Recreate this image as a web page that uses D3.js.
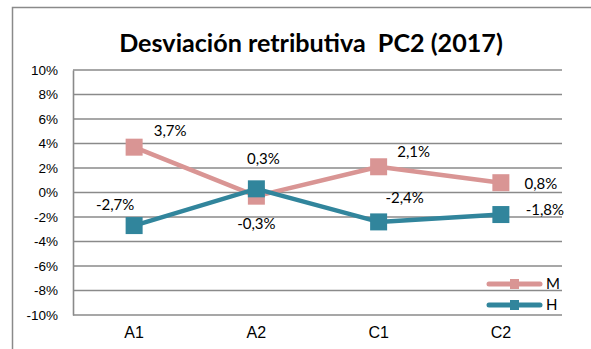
<!DOCTYPE html>
<html>
<head>
<meta charset="utf-8">
<script src="https://cdn.jsdelivr.net/npm/d3@7"></script>
<style>
  html, body { margin: 0; padding: 0; background: #fff; }
  svg { display: block; font-family: "Gill Sans", "Lato", "Open Sans", sans-serif; }
</style>
</head>
<body>
<svg id="chart" width="591" height="349"></svg>
<script>
// Chart data
const categories = ["A1", "A2", "C1", "C2"];
const seriesM = [3.7, -0.3, 2.1, 0.8];
const seriesH = [-2.7, 0.3, -2.4, -1.8];
const yTicks = [-10, -8, -6, -4, -2, 0, 2, 4, 6, 8, 10];
const seriesNames = ["M", "H"];
const titleText = "Desviación retributiva  PC2 (2017)";

const colorM = "#D99594";
const colorH = "#31859C";
const gridColor = "#8A8A8A";

const svg = d3.select("#chart");

// Outer chart frame
svg.append("rect")
  .attr("x", 12.5).attr("y", 7.5)
  .attr("width", 590).attr("height", 360)
  .attr("fill", "none").attr("stroke", gridColor).attr("stroke-width", 1.5);

const plot = { left: 73, right: 562, top: 70, bottom: 315 };

const x = d3.scaleBand().domain(categories).range([plot.left, plot.right]);
const y = d3.scaleLinear().domain([-10, 10]).range([plot.bottom, plot.top]);
// Spanish decimal comma, plain hyphen for negatives
const fmt = v => (v < 0 ? "-" : "") + Math.abs(v).toFixed(1).replace(".", ",") + "%";

// Title, sized to span its intended width
const title = svg.append("text")
  .attr("x", 311).attr("y", 52)
  .attr("text-anchor", "middle")
  .attr("font-size", 22).attr("font-weight", "bold")
  .attr("fill", "#000")
  .style("white-space", "pre")
  .text(titleText);
const tw = title.node().getComputedTextLength();
title.attr("font-size", 22 * 384 / tw);

// Horizontal gridlines
svg.append("g").selectAll("line").data(yTicks).join("line")
  .attr("x1", plot.left).attr("x2", plot.right)
  .attr("y1", d => y(d)).attr("y2", d => y(d))
  .attr("stroke", gridColor).attr("stroke-width", 1.6);

// Left axis
const yAxis = svg.append("g")
  .attr("transform", `translate(${plot.left},0)`)
  .call(d3.axisLeft(y).tickValues(yTicks).tickSize(0).tickPadding(15).tickFormat(d => d + "%"));
yAxis.select(".domain").attr("stroke", gridColor).attr("stroke-width", 1.6);
yAxis.selectAll("text").attr("font-size", 13.5).attr("fill", "#000")
  .attr("font-family", "inherit");

// Bottom axis
const xAxis = svg.append("g")
  .attr("transform", `translate(0,${plot.bottom})`)
  .call(d3.axisBottom(x).tickSize(0).tickPadding(12));
xAxis.select(".domain").remove();
xAxis.selectAll("text").attr("font-size", 16).attr("fill", "#000")
  .attr("font-family", "inherit");

const cx = d => x(d) + x.bandwidth() / 2;

// Series lines and markers
const series = [
  { name: "M", values: seriesM, color: colorM },
  { name: "H", values: seriesH, color: colorH }
];
const line = d3.line().x(d => cx(d.cat)).y(d => y(d.v));
series.forEach(s => {
  const pts = categories.map((c, i) => ({ cat: c, v: s.values[i] }));
  svg.append("path").datum(pts)
    .attr("d", line).attr("fill", "none")
    .attr("stroke", s.color).attr("stroke-width", 4.5)
    .attr("stroke-linejoin", "round");
  svg.append("g").selectAll("rect").data(pts).join("rect")
    .attr("x", d => cx(d.cat) - 8.5).attr("y", d => y(d.v) - 8.5)
    .attr("width", 17).attr("height", 17)
    .attr("fill", s.color);
});

// Data labels (offset from each point)
const labelOffsets = {
  M: [[36, -11], [0, 33], [35, -10], [40, 6]],
  H: [[-19, -16], [7, -25], [26, -19], [44, 0]]
};
series.forEach(s => {
  svg.append("g").selectAll("text").data(s.values).join("text")
    .attr("x", (d, i) => cx(categories[i]) + labelOffsets[s.name][i][0])
    .attr("y", (d, i) => y(d) + labelOffsets[s.name][i][1])
    .attr("text-anchor", "middle")
    .attr("font-size", 15).attr("fill", "#000")
    .text(d => fmt(d));
});

// Legend
const legend = svg.append("g");
series.forEach((s, i) => {
  const ly = 284 + i * 21;
  legend.append("line")
    .attr("x1", 489).attr("x2", 540).attr("y1", ly).attr("y2", ly)
    .attr("stroke", s.color).attr("stroke-width", 5).attr("stroke-linecap", "round");
  legend.append("rect")
    .attr("x", 510).attr("y", ly - 5).attr("width", 9).attr("height", 10)
    .attr("fill", s.color);
  legend.append("text")
    .attr("x", 546).attr("y", ly + 5)
    .attr("font-size", 15).attr("fill", "#000")
    .text(seriesNames[i]);
});
</script>
</body>
</html>
